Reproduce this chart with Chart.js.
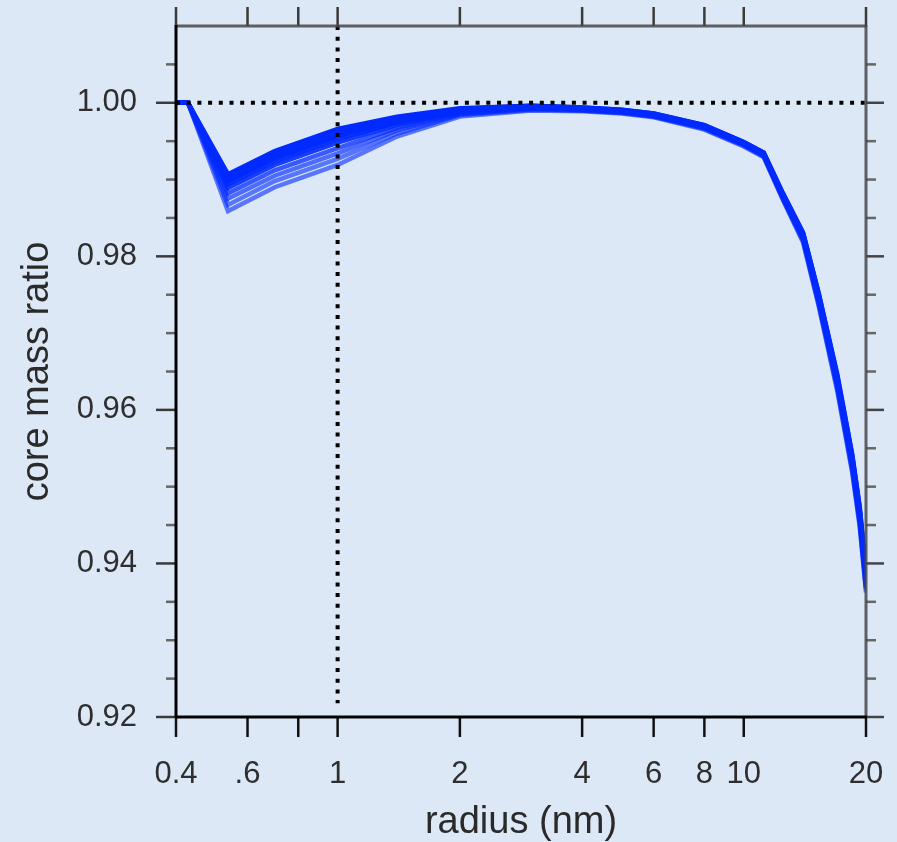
<!DOCTYPE html>
<html>
<head>
<meta charset="utf-8">
<script src="https://cdn.jsdelivr.net/npm/chart.js@4.4.1/dist/chart.umd.min.js"></script>
<style>
  html, body { margin: 0; padding: 0; background: #dce8f6; }
  canvas { display: block; }
</style>
</head>
<body>
<canvas id="chart" width="897" height="842"></canvas>
<script>
// radius (nm) where each curve is sampled
const radius = [0.4, 0.428, 0.537, 0.7, 1.0, 1.4, 2, 3, 4, 5, 6, 8, 10, 11.2, 12.5, 14, 15.3, 17, 18.5, 19.3, 20];

// family of curves, top of the band first
const ratio1  = [1.0000, 1.0000, 0.9907, 0.9937, 0.9966, 0.9982, 0.9993, 0.9996, 0.9994, 0.9991, 0.9986, 0.9971, 0.9949, 0.9935, 0.9882, 0.9831, 0.9752, 0.9646, 0.9542, 0.9474, 0.9390];
const ratio2  = [1.0000, 1.0000, 0.9904, 0.9934, 0.9963, 0.9980, 0.9992, 0.9996, 0.9994, 0.9991, 0.9986, 0.9971, 0.9949, 0.9935, 0.9881, 0.9830, 0.9751, 0.9644, 0.9540, 0.9472, 0.9388];
const ratio3  = [1.0000, 1.0000, 0.9901, 0.9931, 0.9960, 0.9978, 0.9991, 0.9995, 0.9993, 0.9990, 0.9985, 0.9970, 0.9948, 0.9934, 0.9880, 0.9829, 0.9749, 0.9642, 0.9538, 0.9469, 0.9385];
const ratio4  = [1.0000, 1.0000, 0.9898, 0.9928, 0.9957, 0.9976, 0.9990, 0.9995, 0.9993, 0.9990, 0.9985, 0.9970, 0.9948, 0.9934, 0.9879, 0.9828, 0.9747, 0.9640, 0.9535, 0.9466, 0.9382];
const ratio5  = [1.0000, 1.0000, 0.9894, 0.9924, 0.9953, 0.9974, 0.9989, 0.9994, 0.9992, 0.9989, 0.9984, 0.9969, 0.9947, 0.9933, 0.9878, 0.9826, 0.9745, 0.9638, 0.9533, 0.9463, 0.9379];
const ratio6  = [1.0000, 1.0000, 0.9889, 0.9919, 0.9948, 0.9971, 0.9988, 0.9993, 0.9992, 0.9989, 0.9984, 0.9968, 0.9946, 0.9932, 0.9877, 0.9825, 0.9743, 0.9635, 0.9530, 0.9460, 0.9376];
const ratio7  = [1.0000, 1.0000, 0.9882, 0.9912, 0.9941, 0.9967, 0.9987, 0.9993, 0.9991, 0.9988, 0.9983, 0.9968, 0.9946, 0.9932, 0.9876, 0.9823, 0.9741, 0.9632, 0.9527, 0.9457, 0.9372];
const ratio8  = [1.0000, 1.0000, 0.9875, 0.9905, 0.9934, 0.9964, 0.9985, 0.9992, 0.9990, 0.9987, 0.9982, 0.9967, 0.9945, 0.9931, 0.9875, 0.9822, 0.9739, 0.9630, 0.9524, 0.9454, 0.9369];
const ratio9  = [1.0000, 1.0000, 0.9867, 0.9898, 0.9927, 0.9960, 0.9984, 0.9991, 0.9990, 0.9987, 0.9982, 0.9966, 0.9944, 0.9930, 0.9874, 0.9820, 0.9737, 0.9627, 0.9521, 0.9451, 0.9366];
const ratio10 = [1.0000, 1.0000, 0.9859, 0.9890, 0.9919, 0.9956, 0.9982, 0.9990, 0.9989, 0.9986, 0.9981, 0.9965, 0.9943, 0.9929, 0.9873, 0.9818, 0.9735, 0.9624, 0.9518, 0.9448, 0.9362];

// axes
const xTicks = [0.4, 0.6, 0.8, 1, 2, 4, 6, 8, 10, 20];
const xTickLabels = ['0.4', '.6', '', '1', '2', '4', '6', '8', '10', '20'];
const yMajor = [0.92, 0.94, 0.96, 0.98, 1.00];
const yMinor = [0.925, 0.93, 0.935, 0.945, 0.95, 0.955, 0.965, 0.97, 0.975, 0.985, 0.99, 0.995, 1.005];

// dotted reference lines
const refX = 1;
const refY = 1.00;

const curves = [ratio1, ratio2, ratio3, ratio4, ratio5, ratio6, ratio7, ratio8, ratio9, ratio10];
// lower curves of the band look paler
const curveAlpha = [1, 1, 1, 1, 0.95, 0.9, 0.75, 0.65, 0.6, 0.6];

const font = '"Liberation Sans", Arial, Helvetica, sans-serif';

const noPad = s => { s.paddingTop = 0; s.paddingBottom = 0; s.paddingLeft = 0; s.paddingRight = 0; };

const framePlugin = {
  id: 'frame',
  afterDatasetsDraw(chart) {
    const { ctx, chartArea: a, scales: { x, y } } = chart;
    ctx.save();
    const seg = (x1, y1, x2, y2, color, w) => {
      ctx.strokeStyle = color;
      ctx.lineWidth = w;
      ctx.beginPath();
      ctx.moveTo(x1, y1);
      ctx.lineTo(x2, y2);
      ctx.stroke();
    };
    xTicks.forEach(v => {
      const px = x.getPixelForValue(v);
      seg(px, a.bottom, px, a.bottom + 20, '#111', 2.5);
      seg(px, a.top, px, a.top - 19, '#3a3a3a', 2.5);
    });
    yMajor.forEach(v => {
      const py = y.getPixelForValue(v);
      seg(a.left - 20, py, a.left, py, '#3a3a3a', 2.5);
      seg(a.right, py, a.right + 18, py, '#444', 2.5);
    });
    yMinor.forEach(v => {
      const py = y.getPixelForValue(v);
      seg(a.left - 10, py, a.left, py, '#666', 2.5);
      seg(a.right, py, a.right + 10, py, '#666', 2.5);
    });
    // box: left/bottom black, top/right grey
    seg(a.left - 1, a.top, a.right + 1, a.top, 'rgba(70,70,75,0.85)', 3);
    seg(a.right, a.top - 1, a.right, a.bottom + 1, 'rgba(70,70,75,0.85)', 3);
    seg(a.left, a.top - 1, a.left, a.bottom + 1, '#000', 3);
    seg(a.left - 1, a.bottom, a.right + 1, a.bottom, '#000', 3);
    ctx.restore();
  }
};

const datasets = [
  {
    data: [{ x: refX, y: 1.01 }, { x: refX, y: 0.9218 }],
    borderColor: '#000', borderWidth: 4, borderDash: [4, 6.7],
    pointRadius: 0
  },
  {
    data: [{ x: 0.4, y: refY }, { x: 20, y: refY }],
    borderColor: '#000', borderWidth: 4, borderDash: [4, 6.7],
    pointRadius: 0
  }
].concat(curves.map((c, k) => ({
  data: radius.map((r, i) => ({ x: r, y: c[i] })),
  borderColor: `rgba(0, 42, 255, ${curveAlpha[k]})`,
  borderWidth: 4.5,
  pointRadius: 0,
  tension: 0
})));

new Chart(document.getElementById('chart'), {
  type: 'line',
  data: { datasets },
  options: {
    responsive: false,
    animation: false,
    devicePixelRatio: 1,
    layout: { padding: { top: 26, right: 31, left: 0, bottom: 0 } },
    plugins: { legend: { display: false }, tooltip: { enabled: false } },
    scales: {
      x: {
        type: 'logarithmic',
        min: 0.4,
        max: 20,
        afterBuildTicks: s => { s.ticks = xTicks.map(v => ({ value: v })); },
        afterFit: s => { s.height = 125; noPad(s); },
        grid: { display: false, drawTicks: false },
        border: { display: false },
        ticks: {
          autoSkip: false,
          maxRotation: 0,
          padding: 39,
          color: '#2e2e2e',
          font: { family: font, size: 31 },
          callback: (v, i) => xTickLabels[i]
        },
        title: {
          display: true,
          text: 'radius (nm)',
          color: '#2a2a2a',
          font: { family: font, size: 38, lineHeight: 1 },
          padding: { top: 0, bottom: 0 }
        }
      },
      y: {
        type: 'linear',
        min: 0.92,
        max: 1.01,
        afterBuildTicks: s => { s.ticks = yMajor.map(v => ({ value: v })); },
        afterFit: s => { s.width = 176; noPad(s); },
        grid: { display: false, drawTicks: false },
        border: { display: false },
        ticks: {
          padding: 39,
          color: '#2e2e2e',
          font: { family: font, size: 31 },
          callback: v => v.toFixed(2)
        },
        title: {
          display: true,
          text: 'core mass ratio',
          color: '#2a2a2a',
          font: { family: font, size: 38, lineHeight: 1 },
          padding: { top: 19, bottom: 0 }
        }
      }
    }
  },
  plugins: [framePlugin]
});
</script>
</body>
</html>
